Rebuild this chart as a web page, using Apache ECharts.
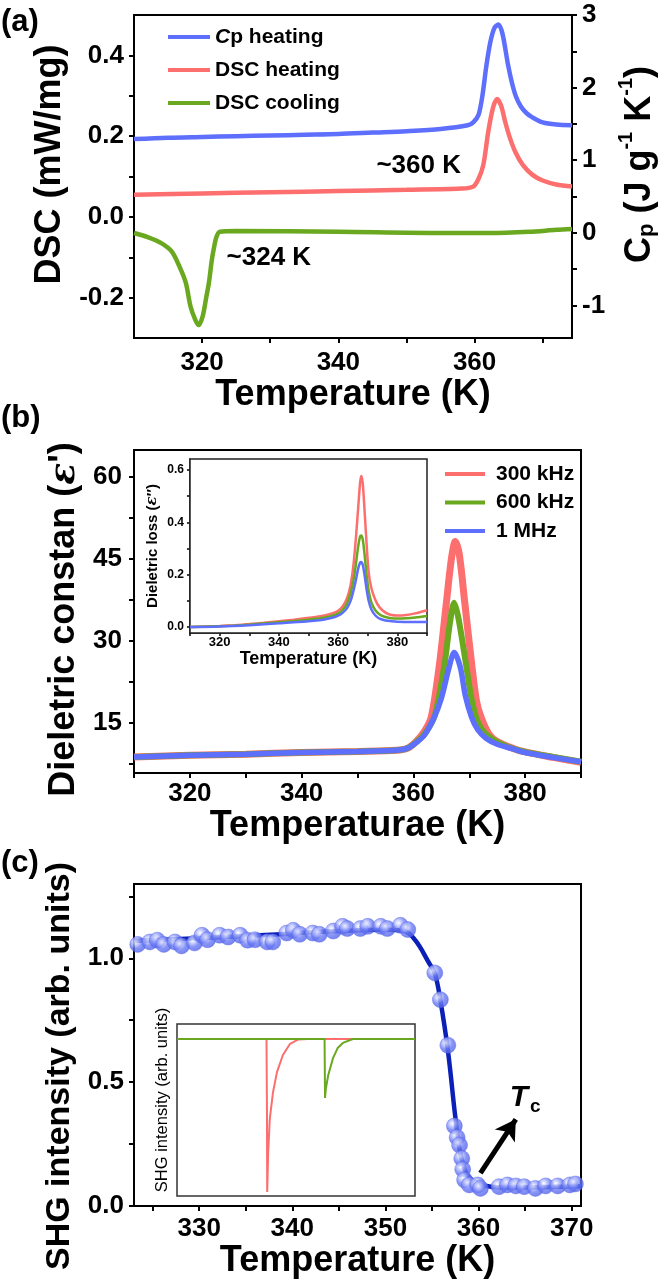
<!DOCTYPE html>
<html><head><meta charset="utf-8">
<script src="https://cdn.jsdelivr.net/npm/echarts@6/dist/echarts.min.js"></script>
<style>html,body{margin:0;padding:0;background:#fff}#c{width:666px;height:1284px}</style>
</head><body><div id="c"></div>
<script>
// ---------- Panel (a) data ----------
const aTicksX = [320, 330, 340, 350, 360, 370];
const aLabelsX = [320, 340, 360];
const aTicksL = [-0.2, -0.1, 0, 0.1, 0.2, 0.3, 0.4];
const aLabelsL = [-0.2, 0, 0.2, 0.4];
const aTicksR = [-1, -0.5, 0, 0.5, 1, 1.5, 2, 2.5, 3];
const aLabelsR = [-1, 0, 1, 2, 3];
const cpHeating = [[310,1.29],[315,1.31],[320,1.32],[325,1.33],[330,1.34],[335,1.35],[340,1.36],[345,1.38],[350,1.40],[355,1.43],[359,1.48],[359.8,1.52],[360.6,1.63],[361.2,1.92],[361.7,2.28],[362.3,2.62],[362.9,2.82],[363.5,2.87],[364.1,2.74],[364.9,2.32],[365.5,2.06],[366.1,1.87],[366.8,1.74],[367.6,1.65],[368.5,1.59],[370,1.52],[372,1.49],[374.3,1.48]];
const dscHeating = [[310,0.055],[320,0.058],[330,0.061],[340,0.064],[350,0.067],[358,0.070],[359.8,0.075],[360.6,0.095],[361.3,0.13],[362.0,0.21],[362.7,0.27],[363.3,0.292],[363.9,0.275],[364.5,0.235],[365.2,0.195],[366,0.16],[367.1,0.128],[368.5,0.104],[370,0.09],[372,0.08],[374.3,0.075]];
const dscCooling = [[310,-0.040],[312,-0.050],[314,-0.065],[315.5,-0.085],[316.6,-0.12],[317.6,-0.163],[318.3,-0.222],[319.0,-0.255],[319.5,-0.268],[320.1,-0.245],[320.6,-0.2],[321,-0.163],[321.4,-0.11],[321.7,-0.08],[322.1,-0.05],[322.6,-0.037],[325,-0.035],[340,-0.037],[355,-0.040],[362,-0.040],[368,-0.037],[372,-0.032],[374.3,-0.030]];
const aNotes = [{text:'~360 K', at:[351.8, 0.126]}, {text:'~324 K', at:[329.8, -0.101]}];

// ---------- Panel (b) data ----------
const bLabelsX = [320, 340, 360, 380];
const bTicksY = [7.5, 15, 22.5, 30, 37.5, 45, 52.5, 60];
const bLabelsY = [15, 30, 45, 60];
const eps300k = [[310,8.8],[320,9.1],[330,9.3],[340,9.6],[350,9.8],[357,10.0],[359,10.4],[360.5,11.6],[362,13.5],[363.2,16.1],[364.6,25.2],[365.8,36],[366.8,45],[367.5,48.2],[368.2,46],[369.2,37],[370.5,25.2],[371.3,19],[372.1,16.1],[373.5,13],[375,11.6],[378,10.3],[380,9.7],[385,8.7],[390,7.8]];
const eps600k = [[310,8.8],[320,9.1],[330,9.3],[340,9.6],[350,9.8],[357,10.0],[359,10.4],[360.5,11.5],[362,13],[363.75,16.1],[365.5,25.2],[366.5,33],[367.3,37],[368.1,34],[369.5,25.2],[370.3,20],[371.2,16.1],[372.5,13.5],[374.5,11.8],[377,10.6],[380,9.7],[385,8.8],[390,7.9]];
const eps1M = [[310,8.8],[320,9.1],[330,9.3],[340,9.6],[350,9.8],[357,10.0],[359,10.4],[360.5,11.4],[362,12.8],[363.75,16.1],[365,19.5],[366.4,25.2],[367.3,27.9],[368.4,25.2],[369.3,20],[370.4,16.1],[371.5,13.8],[373,12.2],[375,11.1],[378,10.2],[380,9.6],[385,8.7],[390,7.9]];
const bInLabelsX = [320, 340, 360, 380];
const bInTicksY = [0, 0.1, 0.2, 0.3, 0.4, 0.5, 0.6];
const bInLabelsY = [0, 0.2, 0.4, 0.6];
const loss300k = [[310,0.0],[315,0.002],[320,0.004],[325,0.007],[330,0.011],[335,0.016],[340,0.022],[345,0.028],[350,0.035],[355,0.043],[358,0.052],[360,0.062],[361.5,0.078],[363,0.11],[364.2,0.16],[365.2,0.24],[366,0.34],[366.8,0.46],[367.4,0.55],[367.8,0.577],[368.3,0.55],[368.9,0.45],[369.6,0.32],[370.3,0.21],[371.2,0.15],[372.5,0.105],[374,0.075],[376,0.055],[378,0.046],[380,0.044],[383,0.046],[386,0.052],[390,0.064]];
const loss600k = [[310,0.0],[320,0.003],[330,0.009],[340,0.018],[350,0.028],[355,0.035],[358,0.043],[360,0.052],[361.5,0.065],[363,0.09],[364.2,0.13],[365.2,0.18],[366,0.24],[366.8,0.31],[367.4,0.345],[367.8,0.35],[368.3,0.335],[368.9,0.28],[369.6,0.2],[370.3,0.14],[371.2,0.095],[372.5,0.065],[374,0.048],[376,0.038],[378,0.033],[380,0.032],[383,0.033],[386,0.036],[390,0.042]];
const loss1M = [[310,0.0],[320,0.002],[330,0.007],[340,0.014],[350,0.022],[355,0.028],[358,0.035],[360,0.043],[361.5,0.054],[363,0.072],[364.2,0.1],[365.2,0.14],[366,0.18],[366.8,0.225],[367.4,0.245],[367.8,0.248],[368.3,0.238],[368.9,0.2],[369.6,0.145],[370.3,0.1],[371.2,0.068],[372.5,0.045],[374,0.032],[376,0.025],[378,0.022],[380,0.02],[385,0.019],[390,0.019]];

// ---------- Panel (c) data ----------
const cTicksX = [325, 330, 335, 340, 345, 350, 355, 360, 365, 370];
const cLabelsX = [330, 340, 350, 360, 370];
const cTicksY = [0, 0.25, 0.5, 0.75, 1.0, 1.25];
const cLabelsY = [0, 0.5, 1.0];
const shgPoints = [[323.4,1.056],[324.7,1.066],[325.5,1.073],[326.2,1.056],[327.4,1.066],[328.1,1.05],[329.5,1.062],[330.3,1.093],[330.9,1.075],[332.2,1.093],[333.1,1.086],[334.4,1.093],[335.2,1.073],[336.0,1.075],[337.3,1.066],[337.9,1.066],[339.4,1.102],[340.1,1.113],[340.8,1.097],[342.2,1.102],[342.9,1.097],[344.4,1.11],[345.4,1.129],[345.9,1.12],[347.3,1.12],[348.1,1.129],[349.5,1.129],[350.2,1.12],[351.6,1.133],[352.4,1.116],[355.3,0.941],[355.9,0.833],[356.7,0.649],[357.4,0.323],[357.7,0.277],[357.96,0.246],[358.2,0.192],[358.3,0.148],[358.5,0.105],[359.0,0.085],[359.9,0.085],[360.2,0.071],[362.2,0.078],[363.1,0.085],[364.0,0.081],[364.9,0.078],[366.1,0.071],[367.2,0.081],[368.5,0.081],[369.8,0.085],[370.4,0.089]];
const shgFit = [[323,1.07],[335,1.09],[345,1.11],[350,1.115],[352,1.11],[353.2,1.073],[354.7,0.98],[355.3,0.94],[355.9,0.83],[356.7,0.63],[357.5,0.36],[358,0.22],[358.5,0.15],[359,0.115],[360,0.09],[361.5,0.077],[363,0.075],[371,0.08]];
const tcArrow = [[360.2, 0.133], [364.0, 0.35]];
const tcLabelAt = [365.0, 0.43];
const kdp = [[0,0.913],[37.6,0.913],[37.8,0.5],[37.9,0.023],[38.3,0.25],[39,0.45],[40.3,0.6],[42,0.72],[44.5,0.82],[47.5,0.885],[51,0.91],[55,0.913],[100,0.913]];
const nibatfa = [[0,0.913],[62.0,0.913],[62.2,0.57],[62.5,0.62],[63.5,0.7],[65.5,0.8],[67.5,0.86],[69.7,0.89],[73.9,0.913],[100,0.913]];

// ---------- styling ----------
const FONT = '"Liberation Sans", Arial, sans-serif';
const BLUE = '#5d6ffc', RED = '#fd6e6e', GREEN = '#69a81f', DARKBLUE = '#0b20b8';

function axis(o) {
  const fs = o.fs || 26;
  const a = {
    type: 'value', gridIndex: o.grid, min: o.min, max: o.max, position: o.position,
    axisLine: {show: true, onZero: false, lineStyle: {color: '#000', width: o.lw || 2}},
    axisTick: {show: true, inside: false, length: o.tl || 5, lineStyle: {color: '#000', width: o.lw || 2}},
    splitLine: {show: false},
    axisLabel: {show: true, color: '#000', fontFamily: FONT, fontWeight: 'bold', fontSize: fs, margin: o.margin || 8,
      formatter: o.fmt || (v => String(v))},
    name: o.name || '', nameLocation: 'middle', nameGap: o.nameGap || 30,
    nameTextStyle: Object.assign({color: '#000', fontFamily: FONT, fontWeight: 'bold', fontSize: o.nfs || 36}, o.nts || {})
  };
  if (o.ticks) a.axisTick.customValues = o.ticks;
  if (o.labels) a.axisLabel.customValues = o.labels;
  if (o.interval) a.interval = o.interval;
  return a;
}
const f1 = v => (Math.abs(v) < 1e-9 ? 0 : v).toFixed(1);
const fi = v => String(Math.round(v));

const chart = echarts.init(document.getElementById('c'), null, {renderer: 'canvas'});
const shine = new echarts.graphic.RadialGradient(0.38, 0.35, 0.7, [
  {offset: 0, color: '#ffffff'}, {offset: 0.22, color: '#c4cbff'}, {offset: 0.55, color: '#6c7cf4'}, {offset: 1, color: '#5060e6'}]);

const option = {
  backgroundColor: '#fff',
  animation: false,
  grid: [
    {left: 134, top: 15, width: 446, height: 323, show: true, borderColor: '#000', borderWidth: 2},
    {left: 134, top: 450, width: 447, height: 323, show: true, borderColor: '#000', borderWidth: 2},
    {left: 190, top: 459, width: 237, height: 174, show: true, borderColor: '#222', borderWidth: 1.5, backgroundColor: '#fff', z: 5},
    {left: 134, top: 884, width: 447, height: 322, show: true, borderColor: '#000', borderWidth: 2},
    {left: 177, top: 1024, width: 238, height: 172, show: true, borderColor: '#333', borderWidth: 1.5, backgroundColor: '#fff', z: 5}
  ],
  xAxis: [
    axis({grid: 0, min: 310, max: 374.3, ticks: aTicksX, labels: aLabelsX, margin: 12, name: 'Temperature (K)', nameGap: 36}),
    axis({grid: 1, min: 310, max: 390, interval: 10, labels: bLabelsX, margin: 8, name: 'Temperaturae (K)', nameGap: 34}),
    axis({grid: 2, min: 310, max: 390, interval: 10, labels: bInLabelsX, fs: 13, tl: 3, lw: 1.5, margin: 3, name: 'Temperature (K)', nameGap: 17, nfs: 18}),
    axis({grid: 3, min: 323, max: 371, ticks: cTicksX, labels: cLabelsX, margin: 10, name: 'Temperature (K)', nameGap: 34}),
    {type: 'value', gridIndex: 4, min: 0, max: 100, show: false}
  ],
  yAxis: [
    axis({grid: 0, min: -0.3, max: 0.5, ticks: aTicksL, labels: aLabelsL, fmt: f1, margin: 10, name: 'DSC (mW/mg)', nameGap: 52,
      nts: {padding: [0, 0, 0, 24]}}),
    axis({grid: 0, min: -1.45, max: 3, position: 'right', ticks: aTicksR, labels: aLabelsR, fmt: fi, margin: 10,
      name: '{b|C}{sub|p}{b| (J g}{sup|-1}{b| K}{sup|-1}{b|)}', nameGap: 30,
      nts: {padding: [0, 0, 0, 24], rich: {
        b: {fontSize: 36, fontWeight: 'bold', fontFamily: FONT, color: '#000', lineHeight: 42, verticalAlign: 'bottom'},
        sub: {fontSize: 22, fontWeight: 'bold', fontFamily: FONT, color: '#000', lineHeight: 42, verticalAlign: 'bottom', padding: [0, 0, 0, 0]},
        sup: {fontSize: 20, fontWeight: 'bold', fontFamily: FONT, color: '#000', lineHeight: 42, verticalAlign: 'top'}}}}),
    axis({grid: 1, min: 5.85, max: 64.95, ticks: bTicksY, labels: bLabelsY, fmt: fi, margin: 12,
      name: 'Dieletric constan ({e|ε}\')', nameGap: 46,
      nts: {padding: [0, 16, 0, 0], rich: {e: {fontSize: 36, fontStyle: 'italic', fontWeight: 'bold', fontFamily: 'DejaVu Serif, serif', color: '#000'}}}}),
    axis({grid: 2, min: -0.023, max: 0.642, ticks: bInTicksY, labels: bInLabelsY, fmt: f1, fs: 12, tl: 3, lw: 1.5, margin: 6,
      name: 'Dieletric loss ({e|ε}″)', nameGap: 30, nfs: 15,
      nts: {rich: {e: {fontSize: 15, fontStyle: 'italic', fontFamily: 'DejaVu Serif, serif', color: '#000'}}}}),
    axis({grid: 3, min: 0, max: 1.3, ticks: cTicksY, labels: cLabelsY, fmt: f1, margin: 10,
      name: 'SHG intensity (arb. units)', nameGap: 50, nfs: 34, nts: {padding: [0, 42, 0, 0]}}),
    {type: 'value', gridIndex: 4, min: 0, max: 1, axisLine: {show: false}, axisTick: {show: false}, axisLabel: {show: false}, splitLine: {show: false},
      name: 'SHG intensity (arb. units)', nameLocation: 'middle', nameGap: 6,
      nameTextStyle: {color: '#000', fontFamily: FONT, fontSize: 16.5, padding: [0, 0, 0, 20]}}
  ],
  legend: [
    {data: ['Cp heating', 'DSC heating', 'DSC cooling'], orient: 'vertical', left: 163, top: 20, itemWidth: 42, itemHeight: 14, itemGap: 9,
      icon: 'path://M0,0H10V1H0Z',
      formatter: n => n === 'Cp heating' ? '{i|C}p heating' : n,
      textStyle: {color: '#000', fontFamily: FONT, fontWeight: 'bold', fontSize: 21, lineHeight: 24,
        rich: {i: {fontStyle: 'italic', fontFamily: FONT, fontWeight: 'bold', fontSize: 21, color: '#000'}}}},
    {data: ['300 kHz', '600 kHz', '1 MHz'], orient: 'vertical', left: 440, top: 457, itemWidth: 40, itemHeight: 14, itemGap: 4.5,
      icon: 'path://M0,0H10V1H0Z',
      textStyle: {color: '#000', fontFamily: FONT, fontWeight: 'bold', fontSize: 21, lineHeight: 24, padding: [0, 0, 0, 6]}},
    {data: ['KDP', 'N-IBATFA'], orient: 'vertical', left: 319, top: 1144, itemWidth: 20, itemHeight: 10, itemGap: 3,
      icon: 'path://M0,0H10V1H0Z',
      textStyle: {color: '#000', fontFamily: FONT, fontWeight: 'bold', fontSize: 14, lineHeight: 15}}
  ],
  series: [
    // (a)
    {name: 'DSC cooling', type: 'line', xAxisIndex: 0, yAxisIndex: 0, data: dscCooling, symbol: 'none', smooth: 0.3,
      lineStyle: {color: GREEN, width: 4.5}, itemStyle: {color: GREEN},
      markPoint: {symbol: 'rect', symbolSize: 1, itemStyle: {color: 'rgba(0,0,0,0)'}, silent: true,
        label: {show: true, position: 'inside', color: '#000', fontFamily: FONT, fontWeight: 'bold', fontSize: 26, formatter: p => p.name},
        data: [{name: aNotes[1].text, coord: aNotes[1].at}]}},
    {name: 'DSC heating', type: 'line', xAxisIndex: 0, yAxisIndex: 0, data: dscHeating, symbol: 'none', smooth: 0.3,
      lineStyle: {color: RED, width: 4.5}, itemStyle: {color: RED},
      markPoint: {symbol: 'rect', symbolSize: 1, itemStyle: {color: 'rgba(0,0,0,0)'}, silent: true,
        label: {show: true, position: 'inside', color: '#000', fontFamily: FONT, fontWeight: 'bold', fontSize: 26, formatter: p => p.name},
        data: [{name: aNotes[0].text, coord: aNotes[0].at}]}},
    {name: 'Cp heating', type: 'line', xAxisIndex: 0, yAxisIndex: 1, data: cpHeating, symbol: 'none', smooth: 0.3,
      lineStyle: {color: BLUE, width: 4.5}, itemStyle: {color: BLUE}},
    // (b)
    {name: '300 kHz', type: 'line', xAxisIndex: 1, yAxisIndex: 2, data: eps300k, symbol: 'none', smooth: 0.3,
      lineStyle: {color: RED, width: 7}, itemStyle: {color: RED}},
    {name: '600 kHz', type: 'line', xAxisIndex: 1, yAxisIndex: 2, data: eps600k, symbol: 'none', smooth: 0.3,
      lineStyle: {color: GREEN, width: 6}, itemStyle: {color: GREEN}},
    {name: '1 MHz', type: 'line', xAxisIndex: 1, yAxisIndex: 2, data: eps1M, symbol: 'none', smooth: 0.3,
      lineStyle: {color: BLUE, width: 5.5}, itemStyle: {color: BLUE}},
    {name: '300 kHz', type: 'line', xAxisIndex: 2, yAxisIndex: 3, data: loss300k, symbol: 'none', smooth: 0.3, z: 6,
      lineStyle: {color: RED, width: 2.5}, itemStyle: {color: RED}},
    {name: '600 kHz', type: 'line', xAxisIndex: 2, yAxisIndex: 3, data: loss600k, symbol: 'none', smooth: 0.3, z: 6,
      lineStyle: {color: GREEN, width: 2.5}, itemStyle: {color: GREEN}},
    {name: '1 MHz', type: 'line', xAxisIndex: 2, yAxisIndex: 3, data: loss1M, symbol: 'none', smooth: 0.3, z: 6,
      lineStyle: {color: BLUE, width: 2.5}, itemStyle: {color: BLUE}},
    // (c)
    {name: 'fit', type: 'line', xAxisIndex: 3, yAxisIndex: 4, data: shgFit, symbol: 'none', smooth: 0.4, z: 2,
      lineStyle: {color: DARKBLUE, width: 4.5}},
    {name: 'SHG', type: 'scatter', xAxisIndex: 3, yAxisIndex: 4, data: shgPoints, symbol: 'circle', symbolSize: 16, z: 3,
      itemStyle: {color: shine, borderColor: '#5565e8', borderWidth: 0.5},
      markLine: {silent: true, symbol: ['none', 'arrow'], symbolSize: [18, 20],
        lineStyle: {color: '#000', width: 5, type: 'solid'}, label: {show: false},
        data: [[{coord: tcArrow[0]}, {coord: tcArrow[1]}]]},
      markPoint: {symbol: 'rect', symbolSize: 1, itemStyle: {color: 'rgba(0,0,0,0)'}, silent: true,
        label: {show: true, position: 'inside', formatter: '{t|T}{c|c}',
          rich: {t: {fontFamily: FONT, fontWeight: 'bold', fontStyle: 'italic', fontSize: 30, color: '#000', lineHeight: 34, verticalAlign: 'top'},
                 c: {fontFamily: FONT, fontWeight: 'bold', fontSize: 19, color: '#000', lineHeight: 34, verticalAlign: 'bottom', padding: [14, 0, 0, 2]}}},
        data: [{coord: tcLabelAt}]}},
    {name: 'KDP', type: 'line', xAxisIndex: 4, yAxisIndex: 5, data: kdp, symbol: 'none', z: 6,
      lineStyle: {color: RED, width: 2}, itemStyle: {color: RED}},
    {name: 'N-IBATFA', type: 'line', xAxisIndex: 4, yAxisIndex: 5, data: nibatfa, symbol: 'none', z: 7,
      lineStyle: {color: GREEN, width: 2}, itemStyle: {color: GREEN}}
  ],
  graphic: [
    {type: 'text', left: 1, top: 7, style: {text: '(a)', font: 'bold 31px ' + FONT, fill: '#000'}},
    {type: 'text', left: 1, top: 403, style: {text: '(b)', font: 'bold 31px ' + FONT, fill: '#000'}},
    {type: 'text', left: 1, top: 848, style: {text: '(c)', font: 'bold 31px ' + FONT, fill: '#000'}}
  ]
};
chart.setOption(option);
</script>
</body></html>
